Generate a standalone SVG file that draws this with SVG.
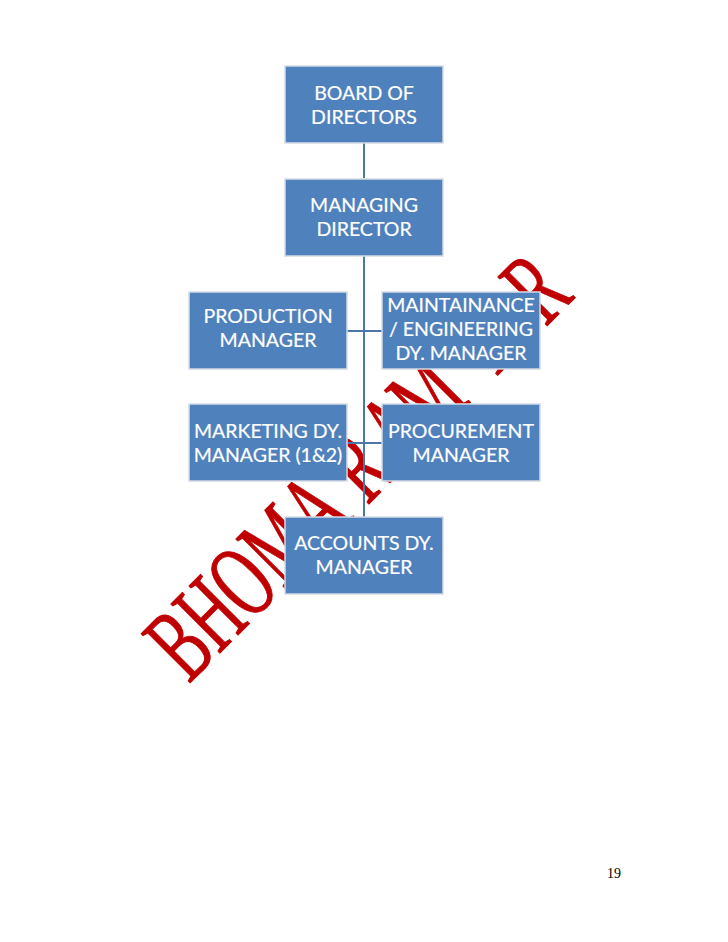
<svg xmlns="http://www.w3.org/2000/svg" width="728" height="942" viewBox="0 0 728 942">
<style>
.box{fill:#4f81bd;stroke:#d5dbe5;stroke-width:1.5}
.lbl{font-family:Lato,"Open Sans",sans-serif;font-size:19.5px;fill:#ffffff;stroke:#ffffff;stroke-width:0.2;text-anchor:middle}
.conn{stroke:#4a76ac;stroke-width:2;fill:none}
.wm{font-family:"Liberation Serif","Times New Roman",serif;font-size:106px;fill:#c00000;stroke:#c00000;stroke-width:1;text-anchor:middle}
.pg{font-family:"Liberation Serif","Times New Roman",serif;font-size:14px;fill:#000000}
</style>
<rect x="0" y="0" width="728" height="942" fill="#ffffff"/>
<g id="watermark" transform="translate(188,685) rotate(-45) scale(0.6,1)">
<text class="wm" x="37 110 185 272 357 400 458 545 622 680 765 878" y="0">BHOMA RAM KR</text>
</g>
<g id="connectors">
<path class="conn" d="M364,143 V178 M364,256 V517 M347,331 H382 M347,443 H382"/>
</g>
<g id="board">
<rect class="box" x="285" y="66" width="158" height="77"/>
<text class="lbl" x="364" y="100">BOARD OF</text>
<text class="lbl" x="364" y="124">DIRECTORS</text>
</g>
<g id="managing">
<rect class="box" x="285" y="179" width="158" height="77"/>
<text class="lbl" x="364" y="212">MANAGING</text>
<text class="lbl" x="364" y="236">DIRECTOR</text>
</g>
<g id="production">
<rect class="box" x="189" y="292" width="158" height="77"/>
<text class="lbl" x="268" y="323">PRODUCTION</text>
<text class="lbl" x="268" y="347">MANAGER</text>
</g>
<g id="maintainance">
<rect class="box" x="382" y="292" width="158" height="77"/>
<text class="lbl" x="461" y="312">MAINTAINANCE</text>
<text class="lbl" x="461" y="336">/ ENGINEERING</text>
<text class="lbl" x="461" y="360">DY. MANAGER</text>
</g>
<g id="marketing">
<rect class="box" x="189" y="404" width="158" height="77"/>
<text class="lbl" x="268" y="438">MARKETING DY.</text>
<text class="lbl" x="268" y="462">MANAGER (1&amp;2)</text>
</g>
<g id="procurement">
<rect class="box" x="382" y="404" width="158" height="77"/>
<text class="lbl" x="461" y="438">PROCUREMENT</text>
<text class="lbl" x="461" y="462">MANAGER</text>
</g>
<g id="accounts">
<rect class="box" x="285" y="517" width="158" height="77"/>
<text class="lbl" x="364" y="550">ACCOUNTS DY.</text>
<text class="lbl" x="364" y="574">MANAGER</text>
</g>
<text class="pg" x="607" y="878">19</text>
</svg>
